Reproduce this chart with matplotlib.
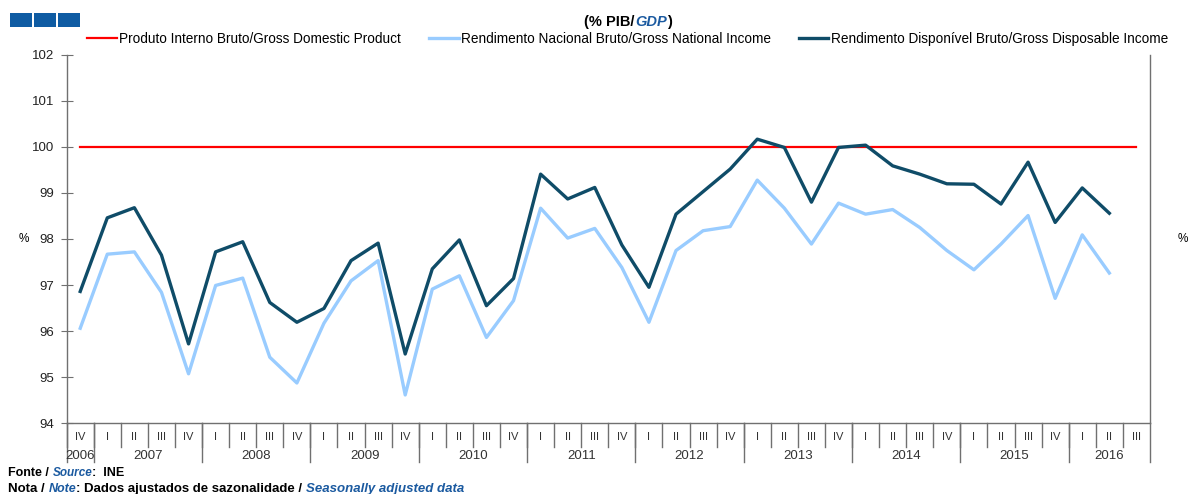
import matplotlib.pyplot as plt
from matplotlib.patches import Rectangle
from matplotlib.transforms import blended_transform_factory

plt.rcParams['font.family'] = ['Liberation Sans', 'DejaVu Sans']

# quarters 2006 IV .. 2016 III
years = ["2006", "2007", "2008", "2009", "2010", "2011", "2012", "2013", "2014", "2015", "2016"]
quarters_per_year = [1, 4, 4, 4, 4, 4, 4, 4, 4, 4, 3]
quarters = (["IV"] + ["I", "II", "III", "IV"] * 9 + ["I", "II", "III"])

pib = [100.0] * 40
rnb = [96.06, 97.67, 97.72, 96.84, 95.07, 96.99, 97.15, 95.43, 94.87, 96.17,
       97.09, 97.53, 94.61, 96.91, 97.20, 95.86, 96.66, 98.67, 98.02, 98.23,
       97.38, 96.19, 97.75, 98.18, 98.27, 99.28, 98.67, 97.89, 98.78, 98.54,
       98.64, 98.25, 97.75, 97.33, 97.89, 98.51, 96.71, 98.09, 97.26]
rdb = [96.86, 98.46, 98.68, 97.65, 95.72, 97.72, 97.94, 96.62, 96.19, 96.49,
       97.53, 97.91, 95.50, 97.35, 97.98, 96.55, 97.14, 99.41, 98.87, 99.12,
       97.87, 96.95, 98.54, 99.03, 99.52, 100.17, 99.99, 98.80, 99.99, 100.04,
       99.59, 99.41, 99.20, 99.19, 98.76, 99.67, 98.36, 99.11, 98.56]

names = ["Produto Interno Bruto/Gross Domestic Product",
         "Rendimento Nacional Bruto/Gross National Income",
         "Rendimento Disponível Bruto/Gross Disposable Income"]
colors = ["#ff0000", "#99ccff", "#0f4c68"]
blue_txt = "#1b5aa0"
axis_col = "#707070"

fig = plt.figure(figsize=(11.95, 4.94), dpi=100)
ax = fig.add_axes([0.0558, 0.1437, 0.9065, 0.745])

x = list(range(len(quarters)))
ax.plot(x[:len(pib)], pib, color=colors[0], lw=1.6, label=names[0])
ax.plot(x[:len(rnb)], rnb, color=colors[1], lw=2.4, label=names[1])
ax.plot(x[:len(rdb)], rdb, color=colors[2], lw=2.4, label=names[2])

ax.set_xlim(-0.5, len(quarters) - 0.5)
ax.set_ylim(94, 102)
ax.set_yticks(range(94, 103))
ax.set_xticks([])
ax.spines['top'].set_visible(False)
for s in ['left', 'right', 'bottom']:
    ax.spines[s].set_color(axis_col)
    ax.spines[s].set_linewidth(1)
ax.tick_params(axis='y', direction='inout', length=8, color=axis_col, labelsize=9.5,
               labelcolor='#222222', left=True, right=True, labelleft=True, labelright=True, pad=5)
ax.set_ylabel("%", rotation=0, fontsize=8.5, labelpad=6, va='center')
ax2 = ax.twinx()
ax2.set_ylim(ax.get_ylim())
ax2.set_yticks([])
for s in ax2.spines.values():
    s.set_visible(False)
ax2.set_ylabel("%", rotation=0, fontsize=8.5, labelpad=24, va='center')

# category axis: quarter labels and year groups
tr = blended_transform_factory(ax.transData, ax.transAxes)
q_low, y_low = -0.065, -0.106
for i, q in enumerate(quarters):
    ax.text(i, -0.038, q, transform=tr, ha='center', va='center', fontsize=8, color='#333333')
    ax.plot([i - 0.5, i - 0.5], [0, q_low], transform=tr, color=axis_col, lw=1, clip_on=False)
start = 0
for yr, n in zip(years, quarters_per_year):
    ax.plot([start - 0.5, start - 0.5], [0, y_low], transform=tr, color=axis_col, lw=1, clip_on=False)
    ax.text(start + (n - 1) / 2, -0.089, yr, transform=tr, ha='center', va='center',
            fontsize=9.5, color='#333333')
    start += n
ax.plot([start - 0.5, start - 0.5], [0, y_low], transform=tr, color=axis_col, lw=1, clip_on=False)

fig.legend(loc='center', bbox_to_anchor=(0.525, 0.921), ncol=3, frameon=False, fontsize=9.8,
           handlelength=2.2, handletextpad=0.15, columnspacing=2.05)

# title with blue italic part
t1 = fig.text(0.489, 0.955, "(% PIB/", fontsize=10.5, fontweight='bold', va='center')
a = plt.annotate("GDP", xy=(1, 0), xycoords=t1, va='bottom', fontsize=10.5, fontweight='bold',
                 style='italic', color=blue_txt)
plt.annotate(")", xy=(1, 0), xycoords=a, va='bottom', fontsize=10.5, fontweight='bold')

# footer
f1 = fig.text(0.007, 0.043, "Fonte / ", fontsize=9, fontweight='bold', va='center')
f2 = plt.annotate("Source", xy=(1, 0), xycoords=f1, va='bottom', fontsize=8.5,
                  fontweight='bold', style='italic', color=blue_txt)
plt.annotate(":  INE", xy=(1, 0), xycoords=f2, va='bottom', fontsize=9, fontweight='bold')
n1 = fig.text(0.007, 0.011, "Nota / ", fontsize=9.5, fontweight='bold', va='center')
n2 = plt.annotate("Note", xy=(1, 0), xycoords=n1, va='bottom', fontsize=9,
                  fontweight='bold', style='italic', color=blue_txt)
n3 = plt.annotate(": Dados ajustados de sazonalidade / ", xy=(1, 0), xycoords=n2, va='bottom',
                  fontsize=9.5, fontweight='bold')
plt.annotate("Seasonally adjusted data", xy=(1, 0), xycoords=n3, va='bottom', fontsize=9.5,
             fontweight='bold', style='italic', color=blue_txt)

# logo blocks
for k in range(3):
    fig.patches.append(Rectangle(((10 + k * 24) / 1195, 1 - 27 / 494), 22 / 1195, 14 / 494,
                                 transform=fig.transFigure, facecolor='#0f5ca3', edgecolor='none'))

fig.savefig("out.png", dpi=100)
